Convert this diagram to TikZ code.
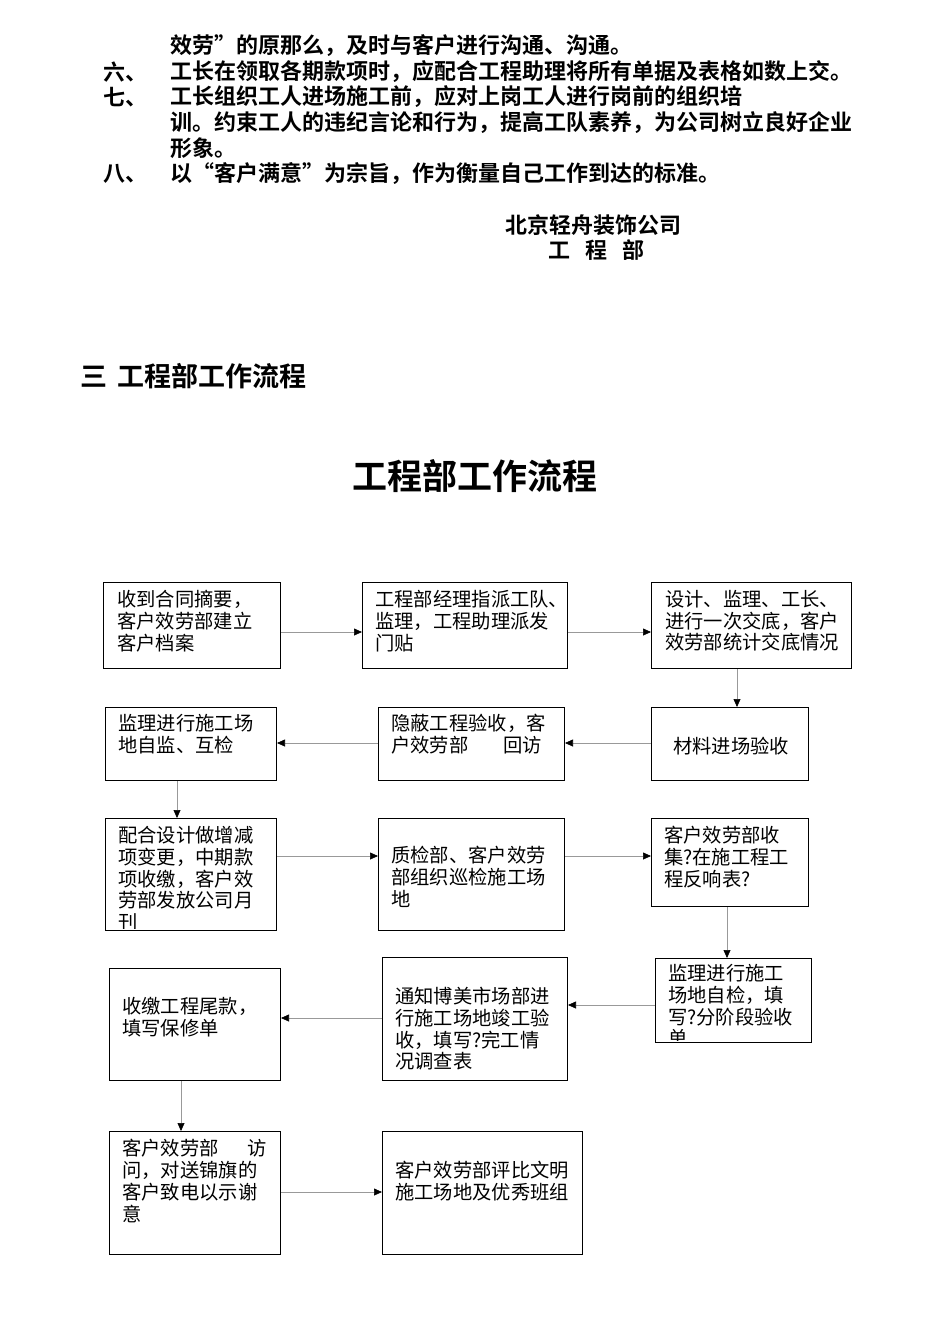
\documentclass[tikz,border=0pt]{standalone}
\usepackage{fontspec}
\setmainfont{Noto Sans CJK SC}
\newfontfamily\cjkb{Noto Sans CJK SC Bold}
\usetikzlibrary{arrows.meta}
\begin{document}
\begin{tikzpicture}[x=1pt,y=-1pt,
  box/.style={draw,line width=1pt},
  tx/.style={anchor=north west,inner sep=0pt,align=left,font=\fontsize{19.3}{21.8}\selectfont},
  top/.style={anchor=west,inner sep=0pt,font=\cjkb\fontsize{22}{24}\selectfont},
  conn/.style={draw=gray!80,line width=0.6pt,-{Triangle[length=8pt,width=7pt,fill=black,color=black]}}]
\useasboundingbox (0,0) rectangle (950,1344);
% top text
\node[top] (t1) at (170,46) {效劳”的原那么，及时与客户进行沟通、沟通。};
\node[top] (n6) at (103,72) {六、};
\node[top] (t2) at (170,72) {工长在领取各期款项时，应配合工程助理将所有单据及表格如数上交。};
\node[top] (n7) at (103,97) {七、};
\node[top] (t3) at (170,97) {工长组织工人进场施工前，应对上岗工人进行岗前的组织培};
\node[top] (t4) at (170,123) {训。约束工人的违纪言论和行为，提高工队素养，为公司树立良好企业};
\node[top] (t5) at (170,148) {形象。};
\node[top] (n8) at (103,174) {八、};
\node[top] (t6) at (170,174) {以“客户满意”为宗旨，作为衡量自己工作到达的标准。};
\node[top] (s1) at (505,225) {北京轻舟装饰公司};
\node[top] (s2) at (548,250) {工\hspace{0.7em}程\hspace{0.7em}部};
\node[anchor=west,inner sep=0pt,font=\cjkb\fontsize{27}{29}\selectfont] (h) at (80,376) {三\hspace{0.4em}工程部工作流程};
\node[inner sep=0pt,font=\cjkb\fontsize{35}{38}\selectfont] (title) at (475,476) {工程部工作流程};
% boxes
\newcommand\bx[5]{\node[box,minimum width=#4-#2,minimum height=#5-#3,anchor=north west,inner sep=0pt] (#1) at (#2,#3) {};}
\bx{b1}{103}{582}{280}{668}
\bx{b2}{362}{582}{567}{668}
\bx{b3}{651}{582}{851}{668}
\bx{b4}{651}{707}{808}{780}
\bx{b5}{378}{707}{564}{780}
\bx{b6}{105}{707}{276}{780}
\bx{b7}{105}{818}{276}{930}
\bx{b8}{378}{818}{564}{930}
\bx{b9}{651}{818}{808}{906}
\bx{b10}{655}{958}{811}{1042}
\bx{b11}{382}{957}{567}{1080}
\bx{b12}{109}{968}{280}{1080}
\bx{b13}{109}{1131}{280}{1254}
\bx{b14}{382}{1131}{582}{1254}
% texts
\node[tx] (x1) at (117,590) {收到合同摘要，\\客户效劳部建立\\客户档案};
\node[tx] (x2) at (375,590) {工程部经理指派工队、\\监理，工程助理派发\\门贴};
\node[tx] (x3) at (665,590) {设计、监理、工长、\\进行一次交底，客户\\效劳部统计交底情况};
\node[tx,anchor=west] (x4) at (673,746) {材料进场验收};
\node[tx] (x5) at (391,714) {隐蔽工程验收，客\\户效劳部\hspace{1.8em}回访};
\node[tx] (x6) at (118,714) {监理进行施工场\\地自监、互检};
\begin{scope}
\clip (105,818) rectangle (276,928);
\node[tx] (x7) at (118,826) {配合设计做增减\\项变更，中期款\\项收缴，客户效\\劳部发放公司月\\刊};
\end{scope}
\node[tx] (x8) at (391,846) {质检部、客户效劳\\部组织巡检施工场\\地};
\node[tx] (x9) at (664,826) {客户效劳部收\\集?在施工程工\\程反响表?};
\begin{scope}
\clip (655,958) rectangle (811,1040);
\node[tx] (x10) at (668,964) {监理进行施工\\场地自检，填\\写?分阶段验收\\单};
\end{scope}
\node[tx] (x11) at (395,987) {通知博美市场部进\\行施工场地竣工验\\收，填写?完工情\\况调查表};
\node[tx] (x12) at (122,997) {收缴工程尾款，\\填写保修单};
\node[tx] (x13) at (122,1139) {客户效劳部\hspace{1.5em}访\\问，对送锦旗的\\客户致电以示谢\\意};
\node[tx] (x14) at (395,1161) {客户效劳部评比文明\\施工场地及优秀班组};
% connectors
\draw[conn] (b1.east|-0,632) -- (b2.west|-0,632);
\draw[conn] (b2.east|-0,632) -- (b3.west|-0,632);
\draw[conn] (737,0|-b3.south) -- (737,0|-b4.north);
\draw[conn] (b4.west|-0,743) -- (b5.east|-0,743);
\draw[conn] (b5.west|-0,743) -- (b6.east|-0,743);
\draw[conn] (177,0|-b6.south) -- (177,0|-b7.north);
\draw[conn] (b7.east|-0,856) -- (b8.west|-0,856);
\draw[conn] (b8.east|-0,856) -- (b9.west|-0,856);
\draw[conn] (727,0|-b9.south) -- (727,0|-b10.north);
\draw[conn] (b10.west|-0,1005) -- (b11.east|-0,1005);
\draw[conn] (b11.west|-0,1018) -- (b12.east|-0,1018);
\draw[conn] (181,0|-b12.south) -- (181,0|-b13.north);
\draw[conn] (b13.east|-0,1192) -- (b14.west|-0,1192);
\end{tikzpicture}
\end{document}
